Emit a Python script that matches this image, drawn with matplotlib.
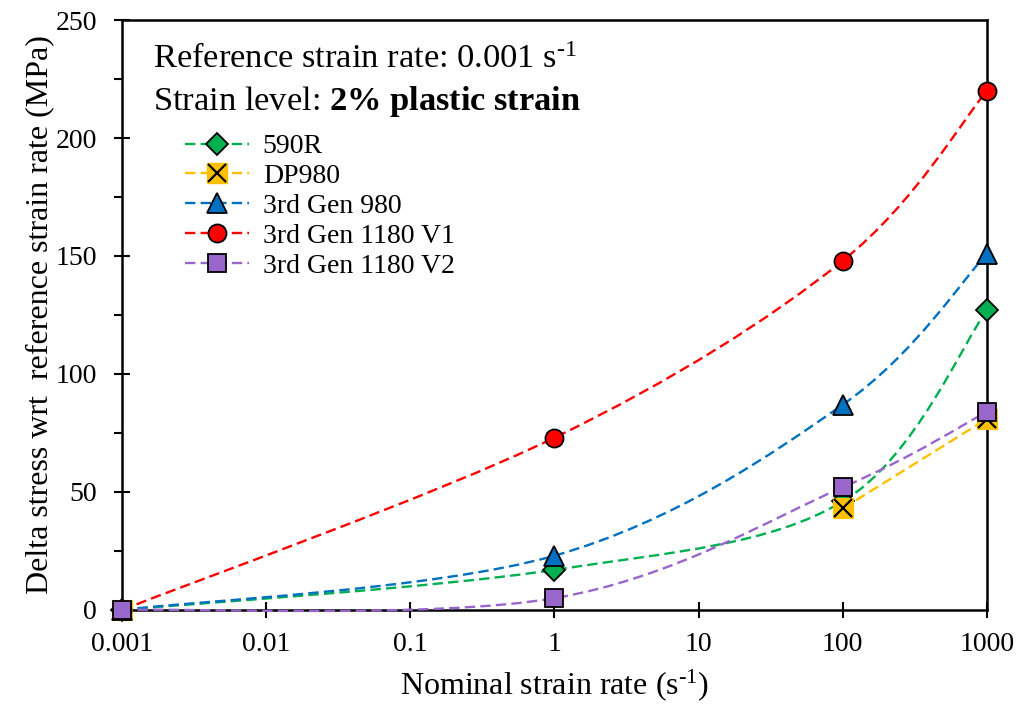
import numpy as np
import matplotlib
matplotlib.use("Agg")
import matplotlib.pyplot as plt
from matplotlib.path import Path
from matplotlib.patches import PathPatch
from matplotlib.lines import Line2D
from matplotlib.legend_handler import HandlerTuple

plt.rcParams['font.family'] = 'Liberation Serif'
plt.rcParams['mathtext.fontset'] = 'custom'
plt.rcParams['mathtext.rm'] = 'Liberation Serif'
plt.rcParams['mathtext.it'] = 'Liberation Serif:italic'
plt.rcParams['mathtext.bf'] = 'Liberation Serif:bold'

# data (nan = no value, line is broken there)
rates = [0.001, 1, 100, 1000]
stress_590r = [0, 17, 46, 127]
stress_dp980 = [0, np.nan, 43, 81]
stress_g980 = [0, 23, 87, 151]
stress_v1 = [0, 73, 148, 220]
stress_v2 = [0, 5, 52, 84]

names = ['590R', 'DP980', '3rd Gen 980', '3rd Gen 1180 V1', '3rd Gen 1180 V2']
colors = ['#00B050', '#FFC000', '#0070C0', '#FF0000', '#9966CC']
markers = ['D', 's', '^', 'o', 's']
msizes = [11, 13, 14, 13, 13]
LW = 1.7
DASH = (4.4, 2.2)


def smooth_path(xs, ys):
    # excel style smoothed line: bezier through the points in log-x space,
    # broken where a value is missing
    u = np.log10(np.asarray(xs, float))
    v = np.asarray(ys, float)
    ok = ~np.isnan(v)
    verts, codes = [], []
    i = 0
    while i < len(v):
        if not ok[i]:
            i += 1
            continue
        j = i
        while j + 1 < len(v) and ok[j + 1]:
            j += 1
        pts = np.column_stack([u[i:j + 1], v[i:j + 1]])
        n = len(pts)
        if n > 1:
            verts.append(pts[0])
            codes.append(Path.MOVETO)
            for k in range(n - 1):
                p0 = pts[max(k - 1, 0)]
                p1 = pts[k]
                p2 = pts[k + 1]
                p3 = pts[min(k + 2, n - 1)]
                verts += [p1 + (p2 - p0) / 6.0, p2 - (p3 - p1) / 6.0, p2]
                codes += [Path.CURVE4] * 3
        i = j + 1
    verts = np.array(verts)
    verts[:, 0] = 10 ** verts[:, 0]
    return Path(verts, codes)


fig = plt.figure(figsize=(10.2, 7.05), dpi=100)
ax = fig.add_axes([0.1196, 0.1348, 0.848, 0.8368])

series = [stress_590r, stress_dp980, stress_g980, stress_v1, stress_v2]

handles = []
for k, ys in enumerate(series):
    c = colors[k]
    patch = PathPatch(smooth_path(rates, ys), facecolor='none', edgecolor=c, lw=LW,
                      linestyle=(0, DASH), clip_on=False, zorder=3)
    ax.add_patch(patch)
    if names[k] == 'DP980':
        ax.plot(rates, ys, linestyle='none', marker='s', ms=14, mfc=c, mec=c, mew=0.8,
                clip_on=False, zorder=4)
        ax.plot(rates, ys, linestyle='none', marker='x', ms=13, mec='black', mew=1.6,
                clip_on=False, zorder=4)
        h1 = Line2D([], [], color=c, lw=LW, dashes=DASH, marker='s', ms=14, mfc=c, mec=c)
        h2 = Line2D([], [], linestyle='none', marker='x', ms=13, mec='black', mew=1.6)
        handles.append((h1, h2))
    else:
        ax.plot(rates, ys, linestyle='none', marker=markers[k], ms=msizes[k], mfc=c, mec='black',
                mew=1.3, clip_on=False, zorder=4)
        handles.append(Line2D([], [], color=c, lw=LW, dashes=DASH, marker=markers[k],
                              ms=msizes[k], mfc=c, mec='black', mew=1.3))

ax.set_xscale('log')
ax.set_xlim(0.001, 1000)
ax.set_ylim(0, 250)
ax.set_xticks([0.001, 0.01, 0.1, 1, 10, 100, 1000])
ax.set_xticklabels(['0.001', '0.01', '0.1', '1', '10', '100', '1000'])
ax.xaxis.set_minor_locator(matplotlib.ticker.NullLocator())
ax.set_yticks(np.arange(0, 251, 50))
ax.set_yticks(np.arange(25, 250, 50), minor=True)
ax.tick_params(axis='both', which='major', direction='inout', length=12, width=1.5,
               labelsize=20)
ax.tick_params(axis='x', which='major', pad=10)
ax.tick_params(axis='y', which='major', pad=12)
ax.tick_params(axis='y', which='minor', direction='out', length=6, width=1.5)
for s in ax.spines.values():
    s.set_linewidth(1.8)

ax.set_xlabel(r'Nominal strain rate (s$^{\text{-}1}$)', fontsize=23, labelpad=7)
ax.set_ylabel('Delta stress wrt  reference strain rate (MPa)', fontsize=23, labelpad=1)

ax.text(0.0358, 0.9186, r'Reference strain rate: 0.001 s$^{\text{-}1}$', transform=ax.transAxes,
        fontsize=24.8, va='baseline')
ax.text(0.0358, 0.847, r'Strain level: $\mathbf{2\%\ plastic\ strain}$', transform=ax.transAxes,
        fontsize=24.8, va='baseline')

ax.legend(handles, names, loc='upper left', bbox_to_anchor=(0.0728, 0.807), frameon=False,
          fontsize=20, borderpad=0, borderaxespad=0, handlelength=2.3, handletextpad=0.5,
          labelspacing=0.16, handler_map={tuple: HandlerTuple(ndivide=1)})

fig.savefig('out.png', dpi=100)
